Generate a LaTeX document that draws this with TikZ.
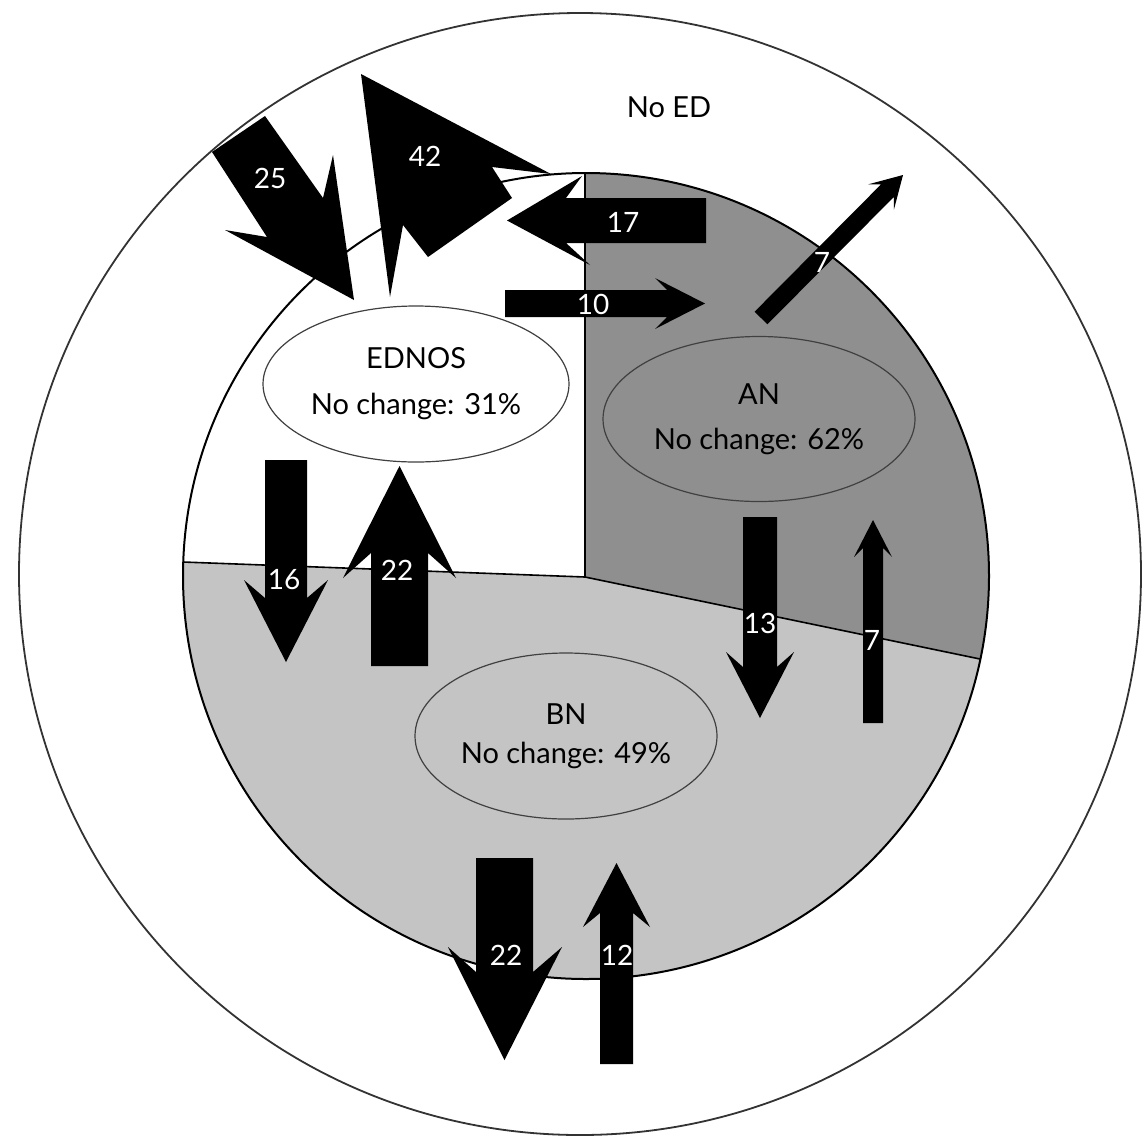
\documentclass[tikz,border=0pt]{standalone}
\usepackage{fontspec}
\setmainfont{Lato}
\usetikzlibrary{shapes.geometric}
\definecolor{angray}{RGB}{143,143,143}
\definecolor{bngray}{RGB}{196,196,196}

\begin{document}
\begin{tikzpicture}[x=1pt,y=-1pt,
    state/.style={shape=ellipse, draw=black!75, line width=1.2pt, inner sep=0pt,
                  minimum width=306pt, minimum height=156pt, align=center,
                  font=\fontsize{29}{46}\selectfont},
    flow/.style={fill=black},
    count/.style={text=white, inner sep=0pt, font=\fontsize{28}{30}\selectfont}]
  \useasboundingbox (0,0) rectangle (1145,1144);

  % circles and sectors
  \coordinate (hub) at (585,577);
  \coordinate (top) at (585,173);
  \coordinate (west) at (183,562);
  \coordinate (east) at (980,659);
  \draw[line width=1.8pt, black!80] (580,574) circle (561);
  \begin{scope}
    \clip (586,576) circle (403);
    \fill[bngray] (170,160) rectangle (1000,990);
    \fill[angray] (585,150) -- (hub) -- (1000,663) -- (1000,150) -- cycle;
    \fill[white] (585,150) -- (hub) -- (170,561.5) -- (170,150) -- cycle;
  \end{scope}
  \draw[line width=1.6pt] (top) -- (hub) -- (east);
  \draw[line width=1.6pt] (hub) -- (west);
  \draw[line width=2pt] (586,576) circle (403);

  % states
  \node[state, fill=white] (ednos) at (416,384) {EDNOS\\No change: 31\%};
  \node[state, fill=angray, minimum width=312pt, minimum height=165pt,
        font=\fontsize{29}{45}\selectfont] (an) at (759,419) {AN\\No change: 62\%};
  \node[state, fill=bngray, minimum width=302pt, minimum height=166pt,
        font=\fontsize{29}{39}\selectfont] (bn) at (566,736) {BN\\No change: 49\%};
  \node[font=\fontsize{29}{34}\selectfont] (noed) at (669,107) {No ED};

  % flows
  \fill[flow] (212,152) -- (265,116) -- (323,198) -- (333,155) -- (354,300)
              -- (225,230) -- (267,237) -- cycle;
  \fill[flow] (361,74) -- (551,174) -- (492,167) -- (512,198) -- (428,257)
              -- (403,225) -- (390,297) -- cycle;
  \fill[flow] (706,198) -- (566,198) -- (582,176) -- (507,220.5) -- (590,265)
              -- (566,243) -- (706,243) -- cycle;
  \fill[flow] (505,290) -- (667,290) -- (655,278) -- (705,303.5) -- (655,329)
              -- (667,317) -- (505,317) -- cycle;
  \fill[flow] (754.6,311.7) -- (881.1,184.3) -- (868.3,184.3) -- (903,175)
              -- (893.9,209.7) -- (893.9,196.9) -- (767.4,324.3) -- cycle;
  \fill[flow] (265,460) -- (307,460) -- (307,598) -- (328,580) -- (286,662)
              -- (244,580) -- (265,598) -- cycle;
  \fill[flow] (371,666) -- (428,666) -- (428,553) -- (456,578) -- (399.5,466)
              -- (343,578) -- (371,553) -- cycle;
  \fill[flow] (743,517) -- (777,517) -- (777,667) -- (794,652) -- (760,718)
              -- (726,652) -- (743,667) -- cycle;
  \fill[flow] (863,723) -- (883,723) -- (883,548) -- (892,557) -- (873,520)
              -- (854,557) -- (863,548) -- cycle;
  \fill[flow] (476,858) -- (533,858) -- (533,972) -- (562,947) -- (504.5,1060)
              -- (448,947) -- (476,972) -- cycle;
  \fill[flow] (600,1064) -- (633,1064) -- (633,913) -- (650,927) -- (616.5,863)
              -- (583,927) -- (600,913) -- cycle;

  % counts
  \path (270,178) node[count] (n25) {25}
        (425,156) node[count] (n42) {42}
        (623,222) node[count] (n17) {17}
        (593,304) node[count] (n10) {10}
        (822,262) node[count] (n7a) {7}
        (284,580) node[count] (n16) {16}
        (397,570) node[count] (n22a) {22}
        (760,623) node[count] (n13) {13}
        (872,640) node[count] (n7b) {7}
        (506,955) node[count] (n22b) {22}
        (617,955) node[count] (n12) {12};
\end{tikzpicture}
\end{document}
